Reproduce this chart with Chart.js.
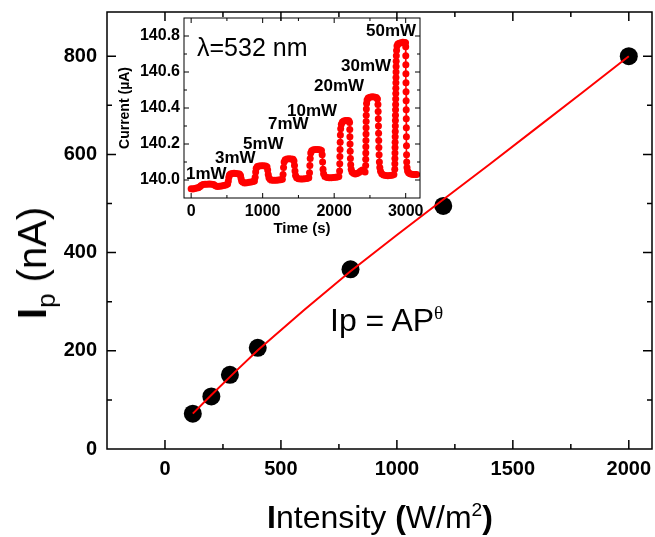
<!DOCTYPE html>
<html>
<head>
<meta charset="utf-8">
<script src="https://cdn.jsdelivr.net/npm/chart.js@4.4.1/dist/chart.umd.min.js"></script>
<style>
  html, body { margin: 0; padding: 0; background: #fff; }
  #wrap { position: relative; width: 655px; height: 537px; overflow: hidden;
          font-family: "Liberation Sans", Arial, sans-serif; color: #000; }
  canvas { position: absolute; }
  .lbl { position: absolute; white-space: nowrap; line-height: 1; }
  .sup { font-size: 0.6em; position: relative; top: -0.6em; }
  .sub { font-size: 0.65em; position: relative; top: 0.35em; }
  .mw { font-weight: bold; font-size: 17px; }
</style>
</head>
<body>
<div id="wrap">
  <canvas id="main" width="655" height="537" style="left:0;top:0"></canvas>
  <canvas id="inset" width="330" height="240" style="left:100px;top:0"></canvas>

  <div class="lbl" style="left:380px;top:501px;font-size:32px;transform:translateX(-50%)"><b>I</b>ntensity <b>(</b>W/m<span class="sup">2</span><b>)</b></div>
  <div class="lbl" style="left:32px;top:263px;font-size:40px;transform:translate(-50%,-50%) rotate(-90deg)"><b>I</b><span class="sub">p</span> (nA)</div>
  <div class="lbl" style="left:330px;top:304px;font-size:32px">Ip = AP<span class="sup" style="font-family:'Liberation Serif',serif">&theta;</span></div>
  <div class="lbl" style="left:197px;top:35px;font-size:25px">&lambda;=532 nm</div>

  <div class="lbl mw" style="left:186px;top:165px">1mW</div>
  <div class="lbl mw" style="left:215px;top:149px">3mW</div>
  <div class="lbl mw" style="left:243px;top:135px">5mW</div>
  <div class="lbl mw" style="left:268px;top:115px">7mW</div>
  <div class="lbl mw" style="left:287px;top:102px">10mW</div>
  <div class="lbl mw" style="left:314px;top:77px">20mW</div>
  <div class="lbl mw" style="left:341px;top:57px">30mW</div>
  <div class="lbl mw" style="left:366px;top:22px">50mW</div>
</div>

<script>
// main plot: photocurrent vs intensity
const intensity = [120, 200, 280, 400, 800, 1200, 2000];
const photocurrent = [72, 107, 151, 206, 366, 495, 800];
// red power-law fit curve
const fitX = [120, 200, 300, 400, 600, 800, 1000, 1200, 1400, 1600, 1800, 2000];
const fitY = [72, 110, 156, 201, 283, 362, 436, 508, 580, 653, 726, 800];
const xTicks = [0, 500, 1000, 1500, 2000];
const yTicks = [0, 200, 400, 600, 800];

// inset: current vs time under 532 nm illumination
const time = [
  0, 25, 50, 75, 100, 120, 140, 165, 195, 225, 255, 285, 315, 340, 365, 395, 425, 455, 485, 510,
  520, 527, 535, 550, 575, 600, 625, 650, 675, 690, 698, 708, 725, 750, 780, 810, 840, 865, 885,
  895, 902, 910, 925, 950, 980, 1010, 1040, 1060, 1070, 1078, 1088, 1105, 1130, 1160, 1190, 1220, 1250, 1275,
  1285, 1292, 1300, 1315, 1340, 1370, 1400, 1425, 1438, 1445, 1452, 1460, 1475, 1500, 1530, 1560, 1590, 1620, 1645,
  1655, 1660, 1665, 1672, 1685, 1710, 1740, 1770, 1800, 1822, 1832, 1838, 1844, 1852, 1870, 1900, 1930, 1960, 1990, 2020, 2045, 2065,
  2076, 2078, 2080, 2082, 2084, 2087, 2091, 2100, 2115, 2135, 2160, 2185, 2205, 2215, 2218, 2220, 2222, 2224, 2227, 2231, 2238,
  2250, 2270, 2295, 2320, 2345, 2370, 2395, 2415, 2432,
  2440, 2441, 2442, 2443, 2444, 2445, 2446, 2447, 2448, 2450, 2453, 2460, 2475, 2500, 2530, 2560, 2590, 2605,
  2612, 2615, 2617, 2619, 2621, 2623, 2625, 2628, 2632, 2638, 2648, 2665, 2690, 2720, 2750, 2780, 2810, 2835,
  2847, 2848, 2849, 2850, 2851, 2852, 2853, 2854, 2855, 2856, 2857, 2858, 2859, 2860, 2861, 2862, 2863, 2864, 2865, 2866, 2867, 2869, 2872,
  2878, 2890, 2910, 2935, 2960, 2985, 2998,
  3000, 3001, 3002, 3003, 3004, 3005, 3006, 3007, 3008, 3009, 3010, 3011, 3012, 3014, 3018, 3026, 3040, 3060, 3085, 3110, 3135, 3155
];
const current = [
  139.952, 139.950, 139.953, 139.955, 139.957, 139.962, 139.970, 139.975, 139.977, 139.976, 139.978, 139.977, 139.975, 139.968, 139.964, 139.965, 139.967, 139.969, 139.972, 139.978,
  139.995, 140.015, 140.028, 140.034, 140.036, 140.037, 140.036, 140.035, 140.033, 140.025, 140.008, 139.993, 139.987, 139.984, 139.985, 139.987, 139.989, 139.991, 139.995,
  140.015, 140.045, 140.065, 140.075, 140.078, 140.079, 140.079, 140.078, 140.074, 140.055, 140.030, 140.012, 140.003, 139.999, 139.998, 139.999, 140.000, 140.001, 140.004,
  140.030, 140.070, 140.100, 140.113, 140.117, 140.118, 140.117, 140.115, 140.105, 140.080, 140.050, 140.025, 140.012, 140.007, 140.005, 140.006, 140.007, 140.008, 140.012,
  140.040, 140.080, 140.120, 140.150, 140.163, 140.168, 140.170, 140.169, 140.168, 140.164, 140.140, 140.100, 140.060, 140.035, 140.020, 140.014, 140.013, 140.013, 140.014, 140.015, 140.016, 140.020,
  140.050, 140.090, 140.130, 140.170, 140.210, 140.250, 140.285, 140.310, 140.322, 140.328, 140.330, 140.331, 140.329, 140.320, 140.280, 140.240, 140.200, 140.160, 140.120, 140.085, 140.060,
  140.045, 140.037, 140.034, 140.036, 140.042, 140.050, 140.055, 140.050, 140.045,
  140.080, 140.115, 140.150, 140.185, 140.220, 140.255, 140.290, 140.325, 140.360, 140.395, 140.425, 140.445, 140.455, 140.460, 140.462, 140.461, 140.458, 140.450,
  140.420, 140.380, 140.340, 140.300, 140.260, 140.220, 140.180, 140.140, 140.100, 140.070, 140.048, 140.035, 140.028, 140.025, 140.024, 140.025, 140.027, 140.030,
  140.060, 140.090, 140.120, 140.150, 140.180, 140.210, 140.240, 140.270, 140.300, 140.330, 140.360, 140.390, 140.420, 140.450, 140.480, 140.510, 140.540, 140.570, 140.600, 140.630, 140.660, 140.690, 140.720,
  140.745, 140.755, 140.760, 140.763, 140.765, 140.764, 140.762,
  140.740, 140.690, 140.640, 140.590, 140.540, 140.490, 140.440, 140.390, 140.340, 140.290, 140.240, 140.190, 140.140, 140.100, 140.070, 140.050, 140.040, 140.035, 140.032, 140.031, 140.030, 140.030
];
const insetXTicks = [0, 1000, 2000, 3000];
const insetYTicks = [140.0, 140.2, 140.4, 140.6, 140.8];

// frame on all four sides with inward ticks (major + minor)
const frame = {
  id: 'frame',
  afterDatasetsDraw(chart, args, o) {
    const { ctx, chartArea: a, scales } = chart;
    const sx = scales.x, sy = scales.y;
    ctx.save();
    ctx.strokeStyle = '#000';
    ctx.lineWidth = o.lw;
    ctx.strokeRect(a.left, a.top, a.right - a.left, a.bottom - a.top);
    ctx.beginPath();
    const r = o.xMajor / o.xMinor;
    for (let i = Math.ceil(sx.min / o.xMinor - 1e-6); i * o.xMinor <= sx.max + 1e-6; i++) {
      const p = sx.getPixelForValue(i * o.xMinor);
      if (p <= a.left + 1 || p >= a.right - 1) continue;
      const len = (i % r === 0) ? o.major : o.minor;
      ctx.moveTo(p, a.bottom); ctx.lineTo(p, a.bottom - len);
      ctx.moveTo(p, a.top); ctx.lineTo(p, a.top + len);
    }
    const ry = o.yMajor / o.yMinor;
    for (let i = Math.ceil(sy.min / o.yMinor - 1e-6); i * o.yMinor <= sy.max + 1e-6; i++) {
      const p = sy.getPixelForValue(i * o.yMinor);
      if (p <= a.top + 1 || p >= a.bottom - 1) continue;
      const len = (i % ry === 0) ? o.major : o.minor;
      ctx.moveTo(a.left, p); ctx.lineTo(a.left + len, p);
      ctx.moveTo(a.right, p); ctx.lineTo(a.right - len, p);
    }
    ctx.stroke();
    ctx.restore();
  }
};

const FONT = '"Liberation Sans", Arial, sans-serif';
const fixX = h => s => { s.height = h; s.paddingLeft = 0; s.paddingRight = 0; };
const fixY = w => s => { s.width = w; s.paddingTop = 0; s.paddingBottom = 0; };

new Chart(document.getElementById('main'), {
  type: 'scatter',
  data: {
    datasets: [
      {
        data: fitX.map((x, i) => ({ x, y: fitY[i] })),
        showLine: true,
        borderColor: '#ff0000',
        borderWidth: 2,
        pointRadius: 0,
        tension: 0
      },
      {
        data: intensity.map((x, i) => ({ x, y: photocurrent[i] })),
        backgroundColor: '#000',
        borderWidth: 0,
        pointRadius: 9
      }
    ]
  },
  options: {
    responsive: false,
    animation: false,
    layout: { autoPadding: false, padding: { top: 12, right: 3, left: 0, bottom: 0 } },
    plugins: {
      legend: { display: false },
      tooltip: { enabled: false },
      frame: { lw: 1.5, major: 9, minor: 5, xMajor: 500, xMinor: 250, yMajor: 200, yMinor: 100 }
    },
    scales: {
      x: {
        type: 'linear', min: -250, max: 2100,
        afterBuildTicks: s => { s.ticks = xTicks.map(v => ({ value: v })); },
        afterFit: fixX(88),
        grid: { display: false, drawTicks: false },
        border: { display: false },
        ticks: { color: '#000', padding: 8, maxRotation: 0, callback: v => String(v),
                 font: { family: FONT, size: 20, weight: 'bold' } }
      },
      y: {
        type: 'linear', min: 0, max: 890,
        afterBuildTicks: s => { s.ticks = yTicks.map(v => ({ value: v })); },
        afterFit: fixY(107),
        grid: { display: false, drawTicks: false },
        border: { display: false },
        ticks: { color: '#000', padding: 10, callback: v => String(v),
                 font: { family: FONT, size: 20, weight: 'bold' } }
      }
    }
  },
  plugins: [frame]
});

new Chart(document.getElementById('inset'), {
  type: 'scatter',
  data: {
    datasets: [{
      data: time.map((t, i) => ({ x: t, y: current[i] })),
      showLine: true,
      borderColor: '#ff0000',
      borderWidth: 1.5,
      backgroundColor: '#ff0000',
      pointBorderWidth: 0,
      pointRadius: 3.5,
      tension: 0
    }]
  },
  options: {
    responsive: false,
    animation: false,
    layout: { autoPadding: false, padding: { top: 18, right: 10, left: 0, bottom: 0 } },
    plugins: {
      legend: { display: false },
      tooltip: { enabled: false },
      frame: { lw: 1, major: 5, minor: 3, xMajor: 1000, xMinor: 500, yMajor: 0.2, yMinor: 0.1 }
    },
    scales: {
      x: {
        type: 'linear', min: -100, max: 3200,
        afterBuildTicks: s => { s.ticks = insetXTicks.map(v => ({ value: v })); },
        afterFit: fixX(42),
        grid: { display: false, drawTicks: false },
        border: { display: false },
        ticks: { color: '#000', padding: 4, maxRotation: 0, callback: v => String(v),
                 font: { family: FONT, size: 16, weight: 'bold' } },
        title: { display: true, text: 'Time (s)', color: '#000', padding: { top: 0, bottom: 2 },
                 font: { family: FONT, size: 15, weight: 'bold' } }
      },
      y: {
        type: 'linear', min: 139.9, max: 140.9,
        afterBuildTicks: s => { s.ticks = insetYTicks.map(v => ({ value: v })); },
        afterFit: fixY(84),
        grid: { display: false, drawTicks: false },
        border: { display: false },
        ticks: { color: '#000', padding: 4, callback: v => v.toFixed(1),
                 font: { family: FONT, size: 16, weight: 'bold' } },
        title: { display: true, text: 'Current (\u00b5A)', color: '#000', padding: { top: 17, bottom: 0 },
                 font: { family: FONT, size: 14, weight: 'bold' } }
      }
    }
  },
  plugins: [frame]
});
</script>
</body>
</html>
